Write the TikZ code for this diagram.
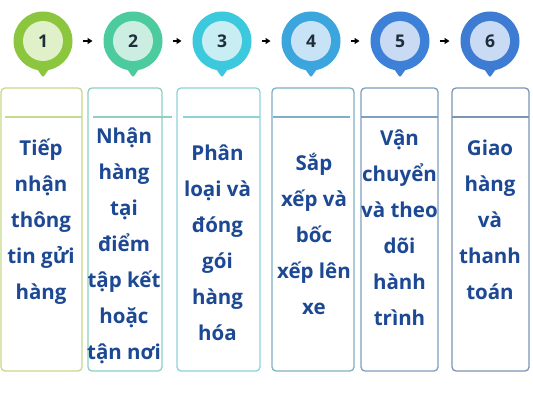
\documentclass[tikz,border=0pt]{standalone}
\usepackage{fontspec}
\setmainfont{Open Sans}
\usetikzlibrary{arrows.meta}
\definecolor{po1}{HTML}{8CC63F}\definecolor{pi1}{HTML}{E0F0C8}
\definecolor{po2}{HTML}{4CCB9E}\definecolor{pi2}{HTML}{CCEEE2}
\definecolor{po3}{HTML}{3CC9DE}\definecolor{pi3}{HTML}{C8EEF4}
\definecolor{po4}{HTML}{3BA5DE}\definecolor{pi4}{HTML}{C8E3F5}
\definecolor{po5}{HTML}{3D80D8}\definecolor{pi5}{HTML}{C8DAF4}
\definecolor{po6}{HTML}{3D7CD2}\definecolor{pi6}{HTML}{C8DAF4}
\definecolor{bb1}{HTML}{C5DA8A}
\definecolor{bb2}{HTML}{8ED0C2}
\definecolor{bb3}{HTML}{8FD2D8}
\definecolor{bb4}{HTML}{7FB0C6}
\definecolor{bb5}{HTML}{7E9FBE}
\definecolor{bb6}{HTML}{7D95B5}
\definecolor{txt}{HTML}{1C4894}
\definecolor{numc}{HTML}{1E2D3A}
\tikzset{
  pinouter/.style={circle,minimum size=59pt,inner sep=0pt,outer sep=0pt},
  pininner/.style={circle,minimum size=40pt,inner sep=0pt,font=\fontsize{17.5}{19}\selectfont\bfseries,text=numc},
  boxnode/.style={rounded corners=4pt,line width=1.3pt,anchor=north west,minimum height=283pt,inner sep=0pt,outer sep=0pt},
  steptext/.style={align=center,text=txt,font=\fontsize{20.5}{36}\selectfont\bfseries},
  flowarrow/.style={line width=1.6pt,-{Triangle[length=5pt,width=6pt]},shorten <=10pt,shorten >=11pt},
  sepline/.style={line width=1.3pt}
}
\begin{document}
\begin{tikzpicture}[x=1pt,y=1pt]
\useasboundingbox (0,0) rectangle (533,400);
\fill[white] (0,0) rectangle (533,400);
% pins
\foreach \i/\x in {1/43,2/133,3/222,4/311,5/400,6/490}{
  \fill[po\i,rounded corners=1.5pt] (\x-8,334) -- (\x,322.5) -- (\x+8,334) -- cycle;
  \node[pinouter,fill=po\i] (p\i) at (\x,359) {};
  \node[pininner,fill=pi\i] (n\i) at (p\i) {\i};
}
\draw[flowarrow] (p1) -- (p2);
\draw[flowarrow] (p2) -- (p3);
\draw[flowarrow] (p3) -- (p4);
\draw[flowarrow] (p4) -- (p5);
\draw[flowarrow] (p5) -- (p6);
% boxes
\node[boxnode,draw=bb1,minimum width=81pt] (b1) at (1,312) {};
\node[boxnode,draw=bb2,minimum width=74pt] (b2) at (88,312) {};
\node[boxnode,draw=bb3,minimum width=83pt] (b3) at (177,312) {};
\node[boxnode,draw=bb4,minimum width=82pt] (b4) at (272,312) {};
\node[boxnode,draw=bb5,minimum width=77pt] (b5) at (361,312) {};
\node[boxnode,draw=bb6,minimum width=77pt] (b6) at (452,312) {};
% separator lines
\draw[sepline,bb1] (5,283) -- (82,283);
\draw[sepline,bb2] (93,283) -- (172,283);
\draw[sepline,bb3] (183,283) -- (260,283);
\draw[sepline,bb4] (273,283) -- (350,283);
\draw[sepline,bb5] (361,283) -- (438,283);
\draw[sepline,bb6] (452,283) -- (529,283);
% texts
\node[steptext] (t1) at (41,178.5) {Tiếp\\nhận\\thông\\tin gửi\\hàng};
\node[steptext] (t2) at (124,154) {Nhận\\hàng\\tại\\điểm\\tập kết\\hoặc\\tận nơi};
\node[steptext] (t3) at (217.5,157) {Phân\\loại và\\đóng\\gói\\hàng\\hóa};
\node[steptext] (t4) at (314,166) {Sắp\\xếp và\\bốc\\xếp lên\\xe};
\node[steptext] (t5) at (399.5,172) {Vận\\chuyển\\và theo\\dõi\\hành\\trình};
\node[steptext] (t6) at (490,180) {Giao\\hàng\\và\\thanh\\toán};
\end{tikzpicture}
\end{document}
